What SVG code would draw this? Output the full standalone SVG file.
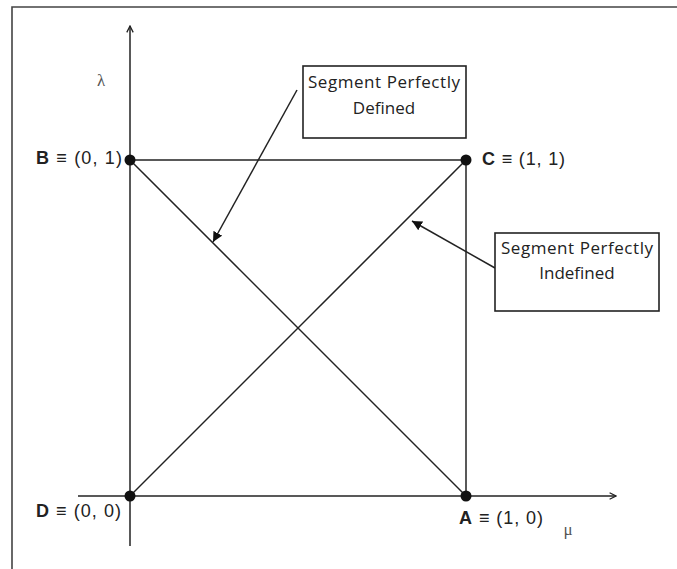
<svg xmlns="http://www.w3.org/2000/svg" width="677" height="569" viewBox="0 0 677 569">
<defs>
<marker id="solid" viewBox="0 0 10 10" refX="10" refY="5" markerWidth="10" markerHeight="10" markerUnits="userSpaceOnUse" orient="auto">
<path d="M0,0 L10,5 L0,10 Z" fill="#111"/>
</marker>
<marker id="open" viewBox="0 0 10 10" refX="9" refY="5" markerWidth="8" markerHeight="8" markerUnits="userSpaceOnUse" orient="auto">
<path d="M1,1 L9,5 L1,9" fill="none" stroke="#222" stroke-width="1.6"/>
</marker>
<style>
.ln{stroke:#222;stroke-width:1.5;fill:none}
.frame{stroke:#444;stroke-width:1.6;fill:none}
.box{fill:#fff;stroke:#222;stroke-width:1.6}
.bt{font-family:"Open Sans","Liberation Sans",sans-serif;font-size:17px;fill:#222;text-anchor:middle}
.lab{font-family:"Liberation Sans",Arial,sans-serif;font-size:18px;fill:#222}
.ax{font-family:"Liberation Serif",serif;font-size:17px;fill:#555}
.dot{fill:#111}
</style>
</defs>
<rect x="0" y="0" width="677" height="569" fill="#fff"/>
<path class="frame" d="M12,569 L12,7 L677,7"/>

<g id="connectors">
<line class="ln" x1="130" y1="546" x2="130" y2="26" marker-end="url(#open)"/>
<line class="ln" x1="78" y1="496" x2="616" y2="496" marker-end="url(#open)"/>
<line class="ln" x1="130" y1="160" x2="466" y2="160"/>
<line class="ln" x1="466" y1="160" x2="466" y2="496"/>
<line class="ln" x1="130" y1="160" x2="466" y2="496"/>
<line class="ln" x1="130" y1="496" x2="466" y2="160"/>
<line class="ln" x1="297" y1="90" x2="213" y2="242" marker-end="url(#solid)"/>
<line class="ln" x1="495" y1="268" x2="412" y2="221" marker-end="url(#solid)"/>
</g>

<g id="axis-lambda"><text class="ax" x="101" y="86" text-anchor="middle">λ</text></g>
<g id="axis-mu"><text class="ax" x="568" y="535" text-anchor="middle">μ</text></g>

<g id="node-B">
<circle class="dot" cx="130" cy="160" r="5.5"/>
<text class="lab" x="36" y="164" textLength="86" lengthAdjust="spacing"><tspan font-weight="bold">B</tspan> ≡ (0, 1)</text>
</g>
<g id="node-C">
<circle class="dot" cx="466" cy="160" r="5.5"/>
<text class="lab" x="482" y="165" textLength="83" lengthAdjust="spacing"><tspan font-weight="bold">C</tspan> ≡ (1, 1)</text>
</g>
<g id="node-D">
<circle class="dot" cx="130" cy="496" r="5.5"/>
<text class="lab" x="36" y="517" textLength="85" lengthAdjust="spacing"><tspan font-weight="bold">D</tspan> ≡ (0, 0)</text>
</g>
<g id="node-A">
<circle class="dot" cx="466" cy="496" r="5.5"/>
<text class="lab" x="459" y="524" textLength="84" lengthAdjust="spacing"><tspan font-weight="bold">A</tspan> ≡ (1, 0)</text>
</g>

<g id="box-defined">
<rect class="box" x="303" y="66" width="163" height="72"/>
<text class="bt" x="384" y="88" textLength="152" lengthAdjust="spacing">Segment Perfectly</text>
<text class="bt" x="384" y="114">Defined</text>
</g>
<g id="box-indefined">
<rect class="box" x="495" y="233" width="164" height="78"/>
<text class="bt" x="577" y="254" textLength="152" lengthAdjust="spacing">Segment Perfectly</text>
<text class="bt" x="577" y="279">Indefined</text>
</g>
</svg>
